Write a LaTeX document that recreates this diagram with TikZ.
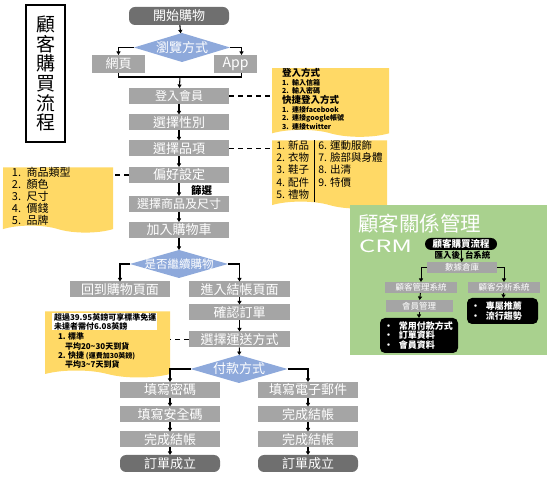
\documentclass[tikz,border=0pt]{standalone}
\usepackage{fontspec}
\setmainfont{Noto Sans CJK TC}
\usepackage{tikz}
\usetikzlibrary{arrows.meta,positioning,shapes.geometric,shapes.symbols}
\definecolor{gray2}{HTML}{A5A5A5}
\definecolor{dark2}{HTML}{6F6F6F}
\definecolor{blue2}{HTML}{8EA9DB}
\definecolor{yellow2}{HTML}{FFD966}
\definecolor{green2}{HTML}{A9D18E}

\begin{document}
\begin{tikzpicture}[x=1pt,y=-1pt,
          every node/.style={inner sep=0pt,outer sep=0pt},
          box/.style={fill=gray2,text=white,minimum width=100pt,minimum height=16pt,
                      font=\fontsize{13}{14}\selectfont},
          endbox/.style={box,fill=dark2,rounded corners=6pt,minimum height=18pt},
          choice/.style={diamond,fill=blue2,text=white,minimum width=96pt,minimum height=29pt,
                         font=\fontsize{13}{14}\selectfont},
          note/.style={tape,tape bend top=none,tape bend bottom=out and in,tape bend height=7pt,
                       fill=yellow2,text=black,align=left},
          crmbox/.style={fill=gray2,text=white,minimum width=72pt,minimum height=11pt,
                         font=\fontsize{8.5}{10}\selectfont},
          blackbox/.style={fill=black,text=white,rounded corners=5pt,align=left,
                           font=\fontsize{9}{9.5}\selectfont\bfseries},
          arr/.style={-{Triangle[length=3.5pt,width=4pt]},line width=1.1pt},
          link/.style={line width=1.1pt,dash pattern=on 5pt off 4pt},
      ]
  \useasboundingbox (0,0) rectangle (547,481);

  % title
  \node[draw,line width=1.3pt,minimum width=39pt,minimum height=137pt,align=center,
        font=\fontsize{19}{19.7}\selectfont] (title) at (45.5,73.5)
    {顧\\客\\購\\買\\流\\程};

  % browsing and login
  \node[endbox] (start) at (179,16) {開始購物};
  \node[choice] (browse) at (182,47.5) {\makebox[0pt]{瀏覽方式}};
  \node[box,minimum width=53pt,minimum height=18pt] (web) at (118.5,64) {網頁};
  \node[box,minimum width=43pt,minimum height=18pt,font=\fontsize{14}{15}\selectfont] (app) at (235.5,64) {App};
  \coordinate (join) at (180,77);
  \node[box,font=\fontsize{12}{14}\selectfont] (login) at (179,96) {登入會員};
  \node[box] (gender) at (179,122.5) {選擇性別};
  \node[box] (pick) at (179,148.5) {選擇品項};
  \node[box] (pref) at (179,175) {偏好設定};
  \node[box,font=\fontsize{12}{14}\selectfont] (size) at (179,204) {選擇商品及尺寸};
  \node[box] (cart) at (179,230) {加入購物車};
  \node[choice,minimum width=98pt,minimum height=28pt,font=\fontsize{11.5}{13}\selectfont] (more) at (179,264)
    {\makebox[0pt]{是否繼續購物}};
  \node[font=\fontsize{10.5}{12}\selectfont\bfseries] (sieve) at (201.5,190) {篩選};

  \draw[arr] (start) -- (browse);
  \draw[arr] (browse.west) -| (web);
  \draw[arr] (browse.east) -| ([xshift=6pt]app.north);
  \draw[line width=1.1pt] (web) |- (join);
  \draw[line width=1.1pt] ([xshift=6pt]app.south) |- (join);
  \draw[arr] (join) -- (login);
  \draw[arr] (login) -- (gender);
  \draw[arr] (gender) -- (pick);
  \draw[arr] (pick) -- (pref);
  \draw[arr] (pref) -- (size);
  \draw[arr] (size) -- (cart);
  \draw[arr] (cart) -- (more);

  % notes
  \node[note,minimum width=117pt,minimum height=68pt,text width=97pt,
        font=\fontsize{7}{7.5}\selectfont\bfseries] (lognote) at (330.5,99)
    {{\fontsize{9.5}{10}\selectfont 登入方式}\\[2pt]
     1. 輸入信箱\\2. 輸入密碼\\
     {\fontsize{9.5}{10}\selectfont 快捷登入方式}\\[2pt]
     1. 連接facebook\\2. 連接google帳號\\3. 連接twitter};
  \node[note,minimum width=115pt,minimum height=64pt,font=\fontsize{10.5}{11.25}\selectfont] (catnote) at (329.5,171)
    {\setlength{\tabcolsep}{4.5pt}%
     \begin{tabular}{@{}l|l@{}}
     1. 新品 & 6. 運動服飾\\
     2. 衣物 & 7. 臉部與身體\\
     3. 鞋子 & 8. 出清\\
     4. 配件 & 9. 特價\\
     5. 禮物 & \\
     \end{tabular}};
  \node[note,minimum width=110pt,minimum height=63pt,text width=92pt,
        font=\fontsize{11}{12}\selectfont] (filtnote) at (58,196.5)
    {1. 商品類型\\2. 顏色\\3. 尺寸\\4. 價錢\\5. 品牌};
  \draw[link] (login) -- (login -| lognote.west);
  \draw[link] (pick) -- (pick -| catnote.west);
  \draw[link] (pref) -- (pref -| filtnote.east);

  % checkout
  \node[box] (back) at (120,289.5) {回到購物頁面};
  \node[box,minimum width=101pt] (checkout) at (239.5,289.5) {進入結帳頁面};
  \node[box,minimum width=101pt] (confirm) at (239.5,312.5) {確認訂單};
  \node[box,minimum width=101pt] (ship) at (239.5,339.5) {選擇運送方式};
  \node[choice,minimum width=97pt,minimum height=28pt] (pay) at (239,369) {\makebox[0pt]{付款方式}};
  \draw[arr] (more.west) -| (back);
  \draw[arr] (more.east) -| (checkout);
  \draw[arr] (checkout) -- (confirm);
  \draw[arr] (confirm) -- (ship);
  \draw[arr] (ship) -- (pay);

  \node[note,minimum width=125pt,minimum height=66pt] (shipnote) at (107.5,341) {};
  \node[fill=white,minimum width=105pt,minimum height=17pt,text width=101pt,align=left,
        font=\fontsize{8}{9}\selectfont\bfseries] (freeship) at (104.5,321.5)
    {超過39.95英鎊可享標準免運\\未達者需付6.08英鎊};
  \node[anchor=north west,align=left,font=\fontsize{8}{9.3}\selectfont\bfseries] (shiplist) at (58,333)
    {1. 標準\\
     \hspace{7pt}平均20\textasciitilde30天到貨\\
     2. 快捷 {\fontsize{7}{8}\selectfont(運費加30英鎊)}\\
     \hspace{7pt}平均3\textasciitilde7天到貨};
  \draw[link] (ship) -- (ship -| shipnote.east);

  % payment
  \node[box] (pwd) at (170,390) {填寫密碼};
  \node[box] (code) at (170,414.5) {填寫安全碼};
  \node[box] (done1) at (170,439.5) {完成結帳};
  \node[endbox,minimum height=17pt] (order1) at (170,463.5) {訂單成立};
  \node[box] (mail) at (308,390) {填寫電子郵件};
  \node[box] (done2) at (308,414.5) {完成結帳};
  \node[box] (done3) at (308,439.5) {完成結帳};
  \node[endbox,minimum height=17pt] (order2) at (308,463.5) {訂單成立};
  \draw[arr] (pay.west) -| (pwd);
  \draw[arr] (pay.east) -| (mail);
  \draw[arr] (pwd) -- (code);
  \draw[arr] (code) -- (done1);
  \draw[arr] (done1) -- (order1);
  \draw[arr] (mail) -- (done2);
  \draw[arr] (done2) -- (done3);
  \draw[arr] (done3) -- (order2);

  % CRM panel
  \node[fill=green2,minimum width=197pt,minimum height=150pt] (crm) at (448.5,280) {};
  \node[anchor=west,text=white,font=\fontsize{20.5}{22}\selectfont] (crmtitle) at (358,224) {顧客關係管理};
  \node[anchor=west,text=white,font=\fontsize{17}{20}\selectfont] (crmname) at (359,246.5)
    {\scalebox{1.5}[1]{CRM}};
  \node[fill=black,text=white,rounded corners=6pt,minimum width=72pt,minimum height=12pt,
        font=\fontsize{9.5}{10}\selectfont\bfseries] (flow) at (461,244) {顧客購買流程};
  \node[crmbox,minimum width=70pt] (db) at (462,267.5) {數據倉庫};
  \node[font=\fontsize{8.5}{10}\selectfont\bfseries] (import) at (462.5,255.5) {匯入後\hspace{5pt}台系統};
  \node[crmbox] (mgmt) at (421,287.5) {顧客管理系統};
  \node[crmbox] (anly) at (504,287.5) {顧客分析系統};
  \node[crmbox,minimum width=67pt,minimum height=12pt] (member) at (419,306) {會員管理};
  \node[blackbox,minimum height=35pt,text width=70pt,inner xsep=4pt] (mlist) at (419,335.5)
    {•\hspace{6pt}常用付款方式\\•\hspace{6pt}訂單資料\\•\hspace{6pt}會員資料};
  \node[blackbox,minimum height=26pt,text width=63pt,inner xsep=4pt] (rlist) at (502.5,311)
    {•\hspace{6pt}專屬推薦\\•\hspace{6pt}流行趨勢};
  \draw[arr,line width=0.9pt] (flow) -- (db);
  \draw[arr,line width=0.9pt] (db.west) -| (mgmt);
  \draw[arr,line width=0.9pt] (db.east) -| (anly);
  \draw[arr,line width=0.9pt] (mgmt) -- (member);
  \draw[arr,line width=0.9pt] (member) -- (mlist);
  \draw[arr,line width=0.9pt] (anly) -- (rlist);
\end{tikzpicture}
\end{document}
